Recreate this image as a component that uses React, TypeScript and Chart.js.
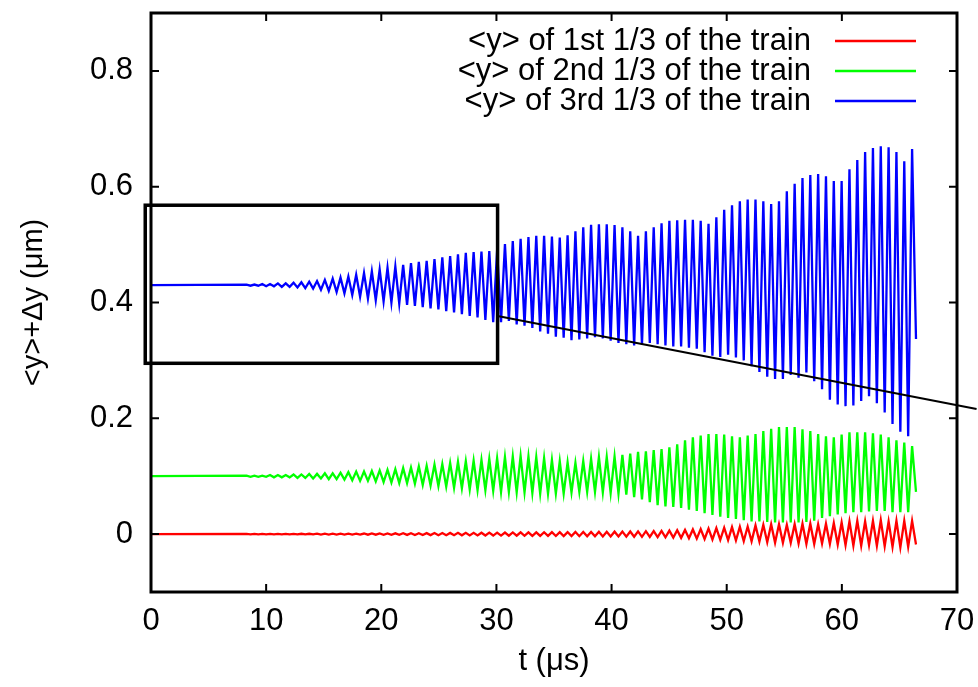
import React, { useEffect, useRef } from 'react';
import { Chart, registerables } from 'chart.js';

Chart.register(...registerables);

// ---------- data ----------
const X_TICKS = [0, 10, 20, 30, 40, 50, 60, 70];
const Y_TICKS = [0, 0.2, 0.4, 0.6, 0.8];
const X_MIN = 0;
const X_MAX = 70;
const Y_MIN = -0.1;
const Y_MAX = 0.9;

const SERIES_LABELS = [
  '<y> of 1st 1/3 of the train',
  '<y> of 2nd 1/3 of the train',
  '<y> of 3rd 1/3 of the train',
];
const SERIES_COLORS = ['#ff0000', '#00ff00', '#0000ff'];

// baseline (flat part) of each bunch third
const RED_BASE = 0.0;
const GREEN_BASE = 0.1;
const BLUE_BASE = 0.43;

// time of the first oscillation crest and half oscillation period (μs)
const T_FIRST_PEAK = 8.3;
const HALF_PERIOD = 0.34;

// crest (hi) and trough (lo) values of each oscillation
const blueHi = [
  0.431, 0.431, 0.432, 0.432, 0.433, 0.433, 0.434, 0.435, 0.436, 0.437,
  0.439, 0.441, 0.443, 0.445, 0.448, 0.451, 0.454, 0.457, 0.46, 0.462,
  0.465, 0.468, 0.47, 0.472, 0.475, 0.478, 0.48, 0.483, 0.486, 0.487,
  0.488, 0.489, 0.49, 0.501, 0.506, 0.51, 0.513, 0.515, 0.515, 0.514,
  0.512, 0.516, 0.523, 0.53, 0.534, 0.535, 0.535, 0.534, 0.53, 0.523,
  0.515, 0.523, 0.53, 0.537, 0.541, 0.542, 0.543, 0.543, 0.541, 0.536,
  0.547, 0.56, 0.568, 0.575, 0.578, 0.578, 0.575, 0.57, 0.575, 0.592,
  0.605, 0.615, 0.62, 0.622, 0.618, 0.61, 0.61, 0.63, 0.646, 0.66,
  0.667, 0.67, 0.668, 0.66, 0.644, 0.665,
];
const blueLo = [
  0.429, 0.429, 0.428, 0.428, 0.427, 0.427, 0.426, 0.425, 0.424, 0.422,
  0.42, 0.418, 0.416, 0.413, 0.41, 0.407, 0.404, 0.402, 0.4, 0.398,
  0.396, 0.394, 0.392, 0.39, 0.388, 0.385, 0.383, 0.38, 0.377, 0.374,
  0.37, 0.366, 0.366, 0.368, 0.362, 0.36, 0.356, 0.35, 0.346, 0.341,
  0.339, 0.335, 0.336, 0.338, 0.34, 0.338, 0.334, 0.33, 0.328, 0.326,
  0.327, 0.33, 0.328, 0.326, 0.324, 0.324, 0.322, 0.32, 0.314, 0.308,
  0.306, 0.31, 0.305, 0.3, 0.29, 0.28, 0.272, 0.268, 0.268, 0.275,
  0.27, 0.279, 0.264, 0.25, 0.232, 0.224, 0.221, 0.222, 0.23, 0.238,
  0.226, 0.21, 0.19, 0.177, 0.169, 0.337,
];
const greenHi = [
  0.101, 0.101, 0.101, 0.102, 0.102, 0.102, 0.103, 0.103, 0.104, 0.104,
  0.105, 0.105, 0.106, 0.107, 0.108, 0.108, 0.109, 0.11, 0.111, 0.112,
  0.114, 0.115, 0.117, 0.118, 0.12, 0.121, 0.123, 0.125, 0.126, 0.127,
  0.128, 0.13, 0.131, 0.133, 0.134, 0.135, 0.134, 0.133, 0.131, 0.128,
  0.126, 0.124, 0.123, 0.126, 0.13, 0.133, 0.133, 0.134, 0.137, 0.139,
  0.142, 0.143, 0.145, 0.147, 0.15, 0.155, 0.162, 0.167, 0.17, 0.173,
  0.173, 0.172, 0.169, 0.167, 0.17, 0.173, 0.178, 0.182, 0.185, 0.185,
  0.185, 0.181, 0.178, 0.173, 0.169, 0.167, 0.172, 0.176, 0.176, 0.176,
  0.174, 0.172, 0.167, 0.162, 0.158, 0.152,
];
const greenLo = [
  0.099, 0.099, 0.099, 0.098, 0.098, 0.098, 0.097, 0.097, 0.096, 0.096,
  0.095, 0.095, 0.094, 0.093, 0.092, 0.092, 0.091, 0.09, 0.089, 0.088,
  0.088, 0.087, 0.085, 0.084, 0.083, 0.082, 0.08, 0.079, 0.077, 0.076,
  0.076, 0.075, 0.073, 0.073, 0.072, 0.072, 0.071, 0.07, 0.07, 0.07,
  0.07, 0.072, 0.073, 0.073, 0.073, 0.072, 0.071, 0.07, 0.068, 0.064,
  0.06, 0.055, 0.05, 0.048, 0.047, 0.045, 0.042, 0.04, 0.036, 0.033,
  0.03, 0.028, 0.026, 0.024, 0.022, 0.022, 0.021, 0.02, 0.02, 0.02,
  0.02, 0.021, 0.023, 0.028, 0.031, 0.034, 0.036, 0.038, 0.038, 0.039,
  0.04, 0.04, 0.038, 0.038, 0.038, 0.073,
];
const redHi = [
  0.0003, 0.0003, 0.0004, 0.0004, 0.0005, 0.0005, 0.0005, 0.0006, 0.0006, 0.0007,
  0.0007, 0.0008, 0.0008, 0.0009, 0.0009, 0.001, 0.001, 0.0011, 0.0012, 0.0013,
  0.0014, 0.0015, 0.0016, 0.0017, 0.0018, 0.0019, 0.002, 0.0021, 0.0022, 0.0023,
  0.0024, 0.0025, 0.0026, 0.0027, 0.0028, 0.003, 0.003, 0.0031, 0.0032, 0.0033,
  0.0034, 0.0035, 0.0036, 0.0037, 0.0038, 0.004, 0.0041, 0.0042, 0.0043, 0.0045,
  0.0047, 0.005, 0.0053, 0.0056, 0.006, 0.0066, 0.0072, 0.008, 0.0088, 0.0095,
  0.0105, 0.011, 0.012, 0.0125, 0.013, 0.015, 0.016, 0.017, 0.017, 0.016,
  0.017, 0.018, 0.018, 0.017, 0.018, 0.019, 0.02, 0.022, 0.023, 0.022,
  0.023, 0.024, 0.022, 0.023, 0.023, 0.023,
];
const redLo = [
  -0.0003, -0.0003, -0.0004, -0.0004, -0.0005, -0.0005, -0.0005, -0.0006, -0.0006, -0.0007,
  -0.0007, -0.0008, -0.0008, -0.0009, -0.0009, -0.001, -0.001, -0.0011, -0.0012, -0.0013,
  -0.0014, -0.0015, -0.0016, -0.0017, -0.0018, -0.0019, -0.002, -0.0021, -0.0022, -0.0023,
  -0.0024, -0.0025, -0.0026, -0.0027, -0.0028, -0.003, -0.003, -0.0031, -0.0032, -0.0033,
  -0.0034, -0.0035, -0.0036, -0.0037, -0.0038, -0.004, -0.0041, -0.0042, -0.0043, -0.0045,
  -0.0047, -0.005, -0.0053, -0.0056, -0.006, -0.0065, -0.007, -0.0078, -0.0085, -0.0092,
  -0.01, -0.0105, -0.011, -0.012, -0.0125, -0.013, -0.014, -0.015, -0.015, -0.015,
  -0.016, -0.017, -0.017, -0.016, -0.017, -0.018, -0.019, -0.02, -0.02, -0.019,
  -0.02, -0.021, -0.022, -0.023, -0.022, -0.018,
];

// zoom-box annotation (data coordinates) and its pointer line
const INSET_BOX = { xMin: -0.5, xMax: 30.1, yMin: 0.295, yMax: 0.568 };
const INSET_LINE = { x1: 30.1, y1: 0.3765, x2: 71.7, y2: 0.216 };

// ---------- helpers ----------
function buildSeries(base: number, hi: number[], lo: number[]) {
  const pts: { x: number; y: number }[] = [{ x: 0, y: base }];
  for (let k = 0; k < hi.length; k++) {
    pts.push({ x: T_FIRST_PEAK + 2 * k * HALF_PERIOD, y: hi[k] });
    pts.push({ x: T_FIRST_PEAK + (2 * k + 1) * HALF_PERIOD, y: lo[k] });
  }
  return pts;
}

const REG = "'Liberation Sans', Arial, Helvetica, sans-serif";

const framePlugin = {
  id: 'gnuplotFrame',
  afterDatasetsDraw(chart: any) {
    const { ctx, chartArea } = chart;
    const { left, right, top, bottom } = chartArea;
    const xs = chart.scales.x;
    const ys = chart.scales.y;
    ctx.save();
    ctx.strokeStyle = '#000';
    // inward ticks on all four sides
    ctx.lineWidth = 2;
    const TL = 8;
    ctx.beginPath();
    X_TICKS.forEach((v) => {
      const px = xs.getPixelForValue(v);
      ctx.moveTo(px, bottom);
      ctx.lineTo(px, bottom - TL);
      ctx.moveTo(px, top);
      ctx.lineTo(px, top + TL);
    });
    Y_TICKS.forEach((v) => {
      const py = ys.getPixelForValue(v);
      ctx.moveTo(left, py);
      ctx.lineTo(left + TL, py);
      ctx.moveTo(right, py);
      ctx.lineTo(right - TL, py);
    });
    ctx.stroke();
    // frame
    ctx.lineWidth = 3;
    ctx.strokeRect(left, top, right - left, bottom - top);

    // zoom box
    const bx1 = xs.getPixelForValue(INSET_BOX.xMin);
    const bx2 = xs.getPixelForValue(INSET_BOX.xMax);
    const by1 = ys.getPixelForValue(INSET_BOX.yMax);
    const by2 = ys.getPixelForValue(INSET_BOX.yMin);
    ctx.lineWidth = 3.5;
    ctx.strokeRect(bx1, by1, bx2 - bx1, by2 - by1);
    ctx.lineWidth = 2;
    ctx.beginPath();
    ctx.moveTo(xs.getPixelForValue(INSET_LINE.x1), ys.getPixelForValue(INSET_LINE.y1));
    ctx.lineTo(xs.getPixelForValue(INSET_LINE.x2), ys.getPixelForValue(INSET_LINE.y2));
    ctx.stroke();

    // legend (gnuplot style: right-aligned text, sample line at right)
    ctx.font = `31px ${REG}`;
    ctx.fillStyle = '#000';
    ctx.textAlign = 'right';
    ctx.textBaseline = 'middle';
    const textRight = right - 146;
    const lineX1 = right - 122;
    const lineX2 = right - 41;
    SERIES_LABELS.forEach((lab, i) => {
      const y = top + 28 + i * 30;
      ctx.fillText(lab, textRight, y);
      ctx.strokeStyle = SERIES_COLORS[i];
      ctx.lineWidth = 2.5;
      ctx.beginPath();
      ctx.moveTo(lineX1, y);
      ctx.lineTo(lineX2, y);
      ctx.stroke();
    });
    ctx.restore();
  },
};

export default function App() {
  const ref = useRef<HTMLCanvasElement | null>(null);
  useEffect(() => {
    document.body.style.margin = '0';
    const canvas = ref.current;
    if (!canvas) return;
    const chart = new Chart(canvas, {
      type: 'line',
      data: {
        datasets: [
          { label: SERIES_LABELS[0], data: buildSeries(RED_BASE, redHi, redLo), borderColor: SERIES_COLORS[0] },
          { label: SERIES_LABELS[1], data: buildSeries(GREEN_BASE, greenHi, greenLo), borderColor: SERIES_COLORS[1] },
          { label: SERIES_LABELS[2], data: buildSeries(BLUE_BASE, blueHi, blueLo), borderColor: SERIES_COLORS[2] },
        ].map((d) => ({ ...d, borderWidth: 2.3, pointRadius: 0, tension: 0, fill: false })),
      },
      options: {
        animation: false,
        responsive: false,
        devicePixelRatio: 1,
        layout: { padding: { left: 0, right: 21, top: 13, bottom: 0 } },
        plugins: { legend: { display: false }, tooltip: { enabled: false } },
        scales: {
          x: {
            type: 'linear',
            min: X_MIN,
            max: X_MAX,
            afterBuildTicks: (s: any) => {
              s.ticks = X_TICKS.map((v) => ({ value: v }));
            },
            afterFit: (s: any) => {
              s.height = 95;
              s.paddingLeft = 0;
              s.paddingRight = 0;
            },
            grid: { display: false, drawTicks: false },
            border: { display: false },
            ticks: {
              color: '#000',
              padding: 11,
              maxRotation: 0,
              autoSkip: false,
              font: { family: REG, size: 31 },
              callback: (v: any) => String(v),
            },
            title: {
              display: true,
              text: 't (\u03bcs)',
              color: '#000',
              font: { family: REG, size: 31 },
              padding: { top: 0, bottom: 7 },
            },
          },
          y: {
            type: 'linear',
            min: Y_MIN,
            max: Y_MAX,
            afterBuildTicks: (s: any) => {
              s.ticks = Y_TICKS.map((v) => ({ value: v }));
            },
            afterFit: (s: any) => {
              s.width = 151;
              s.paddingTop = 0;
              s.paddingBottom = 0;
            },
            grid: { display: false, drawTicks: false },
            border: { display: false },
            ticks: {
              color: '#000',
              padding: 18,
              autoSkip: false,
              font: { family: REG, size: 31 },
              callback: (v: any) => (v === 0 ? '0' : Number(v).toFixed(1)),
            },
            title: {
              display: true,
              text: '<y>+\u0394y (\u03bcm)',
              color: '#000',
              font: { family: REG, size: 29 },
              padding: { top: 17, bottom: 0 },
            },
          },
        },
      },
      plugins: [framePlugin],
    } as any);
    return () => chart.destroy();
  }, []);
  return (
    <div style={{ width: 978, height: 687, background: '#fff' }}>
      <canvas ref={ref} width={978} height={687} style={{ display: 'block' }} />
    </div>
  );
}
